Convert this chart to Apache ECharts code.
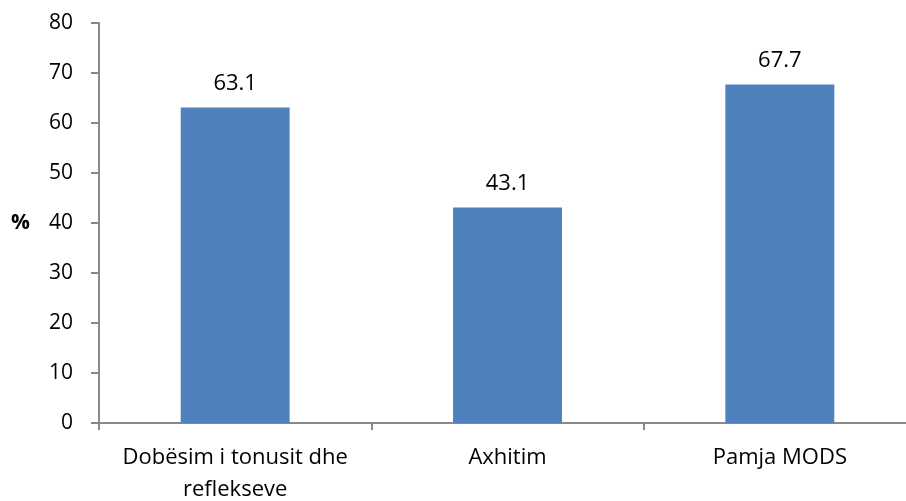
<!DOCTYPE html>
<html>
<head>
<meta charset="utf-8">
<script src="https://cdn.jsdelivr.net/npm/echarts@6/dist/echarts.min.js"></script>
<style>
  html, body { margin: 0; padding: 0; background: #ffffff; }
  #chart { width: 906px; height: 501px; }
</style>
</head>
<body>
<div id="chart"></div>
<script>
// Categories (line breaks kept as they wrap under the axis)
const categories = ['Dobësim i tonusit dhe\nreflekseve', 'Axhitim', 'Pamja MODS'];
// Percent values for each category
const values = [63.1, 43.1, 67.7];
// Value axis range
const yMin = 0;
const yMax = 80;
const yStep = 10;

const FONT = '"Open Sans", "Noto Sans", sans-serif';
const axisGray = '#898989';

const chart = echarts.init(document.getElementById('chart'), null, { renderer: 'canvas' });
chart.setOption({
  animation: false,
  backgroundColor: '#ffffff',
  grid: {
    left: 99, right: -10, top: 23, bottom: 78,
    containLabel: false,
    outerBoundsMode: 'none'
  },
  xAxis: {
    type: 'category',
    data: categories,
    axisLine: { show: true, lineStyle: { color: axisGray, width: 2 } },
    axisTick: { show: true, interval: 0, alignWithLabel: false, length: 7, lineStyle: { color: axisGray, width: 2 } },
    axisLabel: { interval: 0, hideOverlap: false, color: '#000', fontFamily: FONT, fontSize: 22, margin: 19, lineHeight: 32 },
    splitLine: { show: false }
  },
  yAxis: {
    type: 'value',
    min: yMin,
    max: yMax,
    interval: yStep,
    name: '%',
    nameLocation: 'middle',
    nameRotate: 0,
    nameGap: 69,
    nameTextStyle: { color: '#000', fontFamily: FONT, fontSize: 21, fontWeight: 'bold', padding: [16, 0, 0, 0] },
    axisLine: { show: true, lineStyle: { color: axisGray, width: 2 } },
    axisTick: { show: true, length: 8, lineStyle: { color: axisGray, width: 2 } },
    axisLabel: { color: '#000', fontFamily: FONT, fontSize: 21, margin: 26 },
    splitLine: { show: false }
  },
  series: [{
    type: 'bar',
    data: values,
    barWidth: '40%',
    itemStyle: { color: '#4F81BD' },
    label: {
      show: true,
      position: 'top',
      distance: 13,
      color: '#000',
      fontFamily: FONT,
      fontSize: 22,
      formatter: p => p.value.toFixed(1)
    }
  }]
});
</script>
</body>
</html>
